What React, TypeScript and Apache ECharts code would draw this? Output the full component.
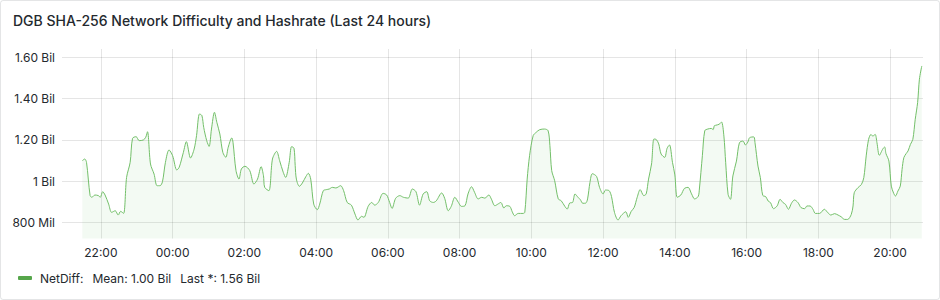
import React, { useEffect, useRef } from "react";
import * as echarts from "echarts";

// Time of the first sample, in minutes after midnight of day 1 (21:29)
const START_MINUTE = 1289;
// Visible window: last 24 hours (20:55 -> 20:55 next day), minutes after midnight of day 1
const WINDOW_MIN = 1255;
const WINDOW_MAX = 2695;

// Minutes after the first sample
const minuteOffsets = [
  0, 4, 7, 13, 16, 21, 27, 30, 34, 38, 44, 49, 55, 60, 64, 69, 74, 80, 84, 90,
  95, 102, 106, 109, 114, 120, 125, 130, 134, 139, 145, 151, 158, 162, 169, 174, 181, 187, 191, 196,
  200, 203, 208, 212, 216, 221, 225, 230, 235, 240, 244, 250, 252, 257, 262, 266, 272, 280, 287, 293,
  299, 303, 305, 312, 318, 325, 330, 336, 340, 346, 350, 354,
  356, 358, 363, 368, 374, 378, 382, 387, 393, 397, 403, 408, 413, 418, 424, 432, 437, 443, 450, 456,
  461, 467, 471, 478, 484, 489, 495, 503, 509, 514, 518, 524, 531, 537, 545, 552, 558, 564, 570, 576,
  581, 587, 592, 601, 606, 612, 617, 623, 629, 634, 640, 645, 651, 656, 662, 668, 673, 680, 684, 690,
  695, 700, 705,
  709, 715, 719, 723, 729, 737, 740, 744, 748, 754, 759, 765, 773, 779, 782, 785, 790, 796, 801, 807,
  811, 815, 820, 824, 829, 833, 837, 842, 845, 849, 853, 860, 865, 871, 875, 881, 885, 890, 896, 901,
  909, 913, 918, 923, 928, 933, 939, 943, 947, 952, 956, 960, 964, 968, 974, 978, 982, 987, 991, 995,
  1001, 1007, 1013, 1019, 1024, 1030, 1032, 1037, 1041, 1046, 1052, 1055, 1057,
  1059, 1065, 1069, 1073, 1076, 1080, 1084, 1088, 1094, 1099, 1105, 1109, 1113, 1116, 1123, 1125, 1130, 1134, 1138, 1143,
  1147, 1151, 1156, 1162, 1167, 1172, 1176, 1181, 1186, 1191, 1197, 1202, 1208, 1212, 1217, 1222, 1226, 1233, 1241, 1247,
  1252, 1258, 1264, 1269, 1275, 1280, 1286, 1289, 1291, 1297, 1303, 1307, 1311, 1315, 1319, 1322, 1326, 1329, 1333, 1339,
  1342, 1344, 1349, 1353, 1357, 1360, 1364, 1368, 1371, 1374, 1378, 1381, 1385, 1389, 1393, 1397, 1400, 1404,
];

// Network difficulty, in billions
const netDiffBil = [
  1.100, 1.108, 1.092, 0.931, 0.923, 0.934, 0.931, 0.923, 0.950, 0.934, 0.890, 0.850, 0.858, 0.837, 0.855, 0.845, 1.019, 1.092, 1.208, 1.216,
  1.197, 1.200, 1.213, 1.240, 1.084, 1.035, 0.979, 0.979, 0.998, 1.092, 1.152, 1.124, 1.055, 1.068, 1.140, 1.192, 1.113, 1.156, 1.221, 1.326,
  1.318, 1.261, 1.197, 1.169, 1.253, 1.334, 1.285, 1.229, 1.140, 1.116, 1.165, 1.210, 1.189, 1.052, 1.011, 1.060, 1.073, 1.052, 0.987, 1.011,
  1.071, 1.027, 0.971, 0.955, 1.108, 1.145, 1.100, 1.044, 1.019, 1.092, 1.168, 1.160,
  1.076, 1.011, 0.976, 0.992, 1.024, 1.039, 1.011, 0.890, 0.863, 0.890, 0.955, 0.960, 0.963, 0.971, 0.968, 0.979, 0.955, 0.898, 0.885, 0.842,
  0.813, 0.831, 0.826, 0.879, 0.898, 0.885, 0.898, 0.942, 0.934, 0.898, 0.869, 0.918, 0.931, 0.923, 0.919, 0.963, 0.950, 0.885, 0.939, 0.950,
  0.906, 0.898, 0.906, 0.944, 0.918, 0.858, 0.879, 0.923, 0.898, 0.879, 0.882, 0.939, 0.974, 0.947, 0.915, 0.923, 0.919, 0.934, 0.915, 0.882,
  0.890, 0.898, 0.871,
  0.882, 0.879, 0.853, 0.834, 0.845, 0.845, 0.850, 1.011, 1.124, 1.221, 1.237, 1.250, 1.253, 1.245, 1.173, 1.052, 1.003, 0.915, 0.906, 0.879,
  0.866, 0.895, 0.898, 0.939, 0.923, 0.911, 0.894, 0.895, 0.915, 0.995, 1.037, 1.024, 0.971, 0.939, 0.958, 0.955, 0.927, 0.850, 0.813, 0.834,
  0.853, 0.826, 0.855, 0.874, 0.923, 0.960, 0.931, 0.939, 1.011, 1.084, 1.205, 1.202, 1.181, 1.132, 1.116, 1.160, 1.176, 1.092, 1.031, 0.923,
  0.934, 0.966, 0.971, 0.939, 0.915, 0.927, 0.963, 1.124, 1.245, 1.253, 1.256, 1.250, 1.269,
  1.271, 1.276, 1.287, 1.219, 1.090, 0.937, 0.913, 1.026, 1.098, 1.187, 1.195, 1.176, 1.190, 1.211, 1.215, 1.187, 1.074, 1.018, 0.932, 0.926,
  0.905, 0.897, 0.868, 0.881, 0.913, 0.897, 0.889, 0.865, 0.894, 0.910, 0.897, 0.873, 0.868, 0.881, 0.881, 0.865, 0.845, 0.845, 0.865, 0.848,
  0.837, 0.844, 0.837, 0.829, 0.816, 0.816, 0.840, 0.881, 0.945, 0.969, 0.985, 1.018, 1.123, 1.203, 1.227, 1.219, 1.227, 1.187, 1.126, 1.158,
  1.166, 1.135, 1.098, 0.977, 0.942, 0.929, 0.953, 0.977, 1.058, 1.115, 1.135, 1.147, 1.179, 1.203, 1.300, 1.381, 1.494, 1.558,
];

const SERIES_NAME = "NetDiff";
const TITLE = "DGB SHA-256 Network Difficulty and Hashrate (Last 24 hours)";
const Y_MIN = 0.7237e9;
const Y_MAX = 1.64e9;
const Y_STEP = 0.2e9;
const X_STEP = 120; // minutes

const FONT = "Inter, 'Noto Sans', sans-serif";
const TEXT = "#24292e";
const GRID = "rgba(0,0,0,0.1)";

function fmtShort(v: number): string {
  const b = v / 1e9;
  if (Math.abs(b) >= 1 - 1e-9) {
    if (Math.abs(b - Math.round(b)) < 1e-6) return `${Math.round(b)} Bil`;
    return `${b.toFixed(2)} Bil`;
  }
  return `${Math.round(v / 1e6)} Mil`;
}

function fmtLegend(v: number): string {
  return `${(v / 1e9).toFixed(2)} Bil`;
}

function fmtClock(m: number): string {
  const mm = ((Math.round(m) % 1440) + 1440) % 1440;
  const h = Math.floor(mm / 60);
  const mi = mm % 60;
  return `${String(h).padStart(2, "0")}:${String(mi).padStart(2, "0")}`;
}

// Time-weighted mean (the samples read from the picture are not evenly spaced)
function timeWeightedMean(t: number[], v: number[]): number {
  let area = 0;
  for (let i = 1; i < t.length; i++) area += ((v[i] + v[i - 1]) / 2) * (t[i] - t[i - 1]);
  return area / (t[t.length - 1] - t[0]);
}

export default function App() {
  const ref = useRef<HTMLDivElement>(null);

  useEffect(() => {
    document.body.style.margin = "0";
    if (!ref.current) return;
    const chart = echarts.init(ref.current, undefined, { renderer: "svg" });

    const values = netDiffBil.map((v) => v * 1e9);
    const data = minuteOffsets.map((m, i) => [START_MINUTE + m, values[i]]);
    const mean = timeWeightedMean(minuteOffsets, values);
    const last = values[values.length - 1];

    chart.setOption({
      animation: false,
      textStyle: { fontFamily: FONT },
      title: {
        text: TITLE,
        left: 8,
        top: 8,
        textStyle: { fontFamily: FONT, fontSize: 14, fontWeight: 500, color: TEXT },
      },
      grid: { left: 62, right: 17, top: 49, bottom: 61.5, containLabel: false },
      legend: {
        left: 13,
        top: 267,
        icon: "roundRect",
        itemWidth: 14,
        itemHeight: 4,
        itemStyle: { color: "#56A64B" },
        data: [SERIES_NAME],
        formatter: (name: string) =>
          `{n|${name}:}{s|Mean: ${fmtLegend(mean)}}{s|Last *: ${fmtLegend(last)}}`,
        textStyle: {
          fontFamily: FONT,
          fontSize: 12,
          color: TEXT,
          rich: {
            n: { fontFamily: FONT, fontSize: 12, color: TEXT, padding: [0, 0, 0, 3] },
            s: { fontFamily: FONT, fontSize: 12, color: TEXT, padding: [0, 0, 0, 9] },
          },
        },
      },
      xAxis: {
        type: "value",
        min: WINDOW_MIN,
        max: WINDOW_MAX,
        minInterval: X_STEP,
        maxInterval: X_STEP,
        axisLine: { show: false },
        axisTick: { show: false },
        axisLabel: {
          showMinLabel: false,
          showMaxLabel: false,
          margin: 8,
          fontFamily: FONT,
          fontSize: 12,
          color: TEXT,
          formatter: (v: number) => fmtClock(v),
        },
        splitLine: {
          show: true,
          showMinLine: false,
          showMaxLine: false,
          lineStyle: { color: GRID, width: 1 },
        },
      },
      yAxis: {
        type: "value",
        min: Y_MIN,
        max: Y_MAX,
        minInterval: Y_STEP,
        maxInterval: Y_STEP,
        axisLine: { show: false },
        axisTick: { show: false },
        axisLabel: {
          showMinLabel: false,
          showMaxLabel: false,
          margin: 7,
          fontFamily: FONT,
          fontSize: 12,
          color: TEXT,
          formatter: (v: number) => fmtShort(v),
        },
        splitLine: {
          show: true,
          showMinLine: false,
          showMaxLine: false,
          lineStyle: { color: GRID, width: 1 },
        },
      },
      series: [
        {
          name: SERIES_NAME,
          type: "line",
          data,
          showSymbol: false,
          smooth: 0.3,
          lineStyle: { color: "#73BF69", width: 1 },
          itemStyle: { color: "#73BF69" },
          areaStyle: { color: "rgba(115,191,105,0.12)" },
        },
      ],
    });

    return () => chart.dispose();
  }, []);

  return (
    <div style={{ position: "relative", width: 940, height: 300, background: "#fff" }}>
      <div ref={ref} style={{ position: "absolute", left: 0, top: 0, width: 940, height: 300 }} />
      <div
        style={{
          position: "absolute",
          left: 0,
          top: 0,
          width: 940,
          height: 300,
          boxSizing: "border-box",
          border: "1px solid rgba(36,41,46,0.12)",
          borderRadius: 3,
          pointerEvents: "none",
        }}
      />
    </div>
  );
}
